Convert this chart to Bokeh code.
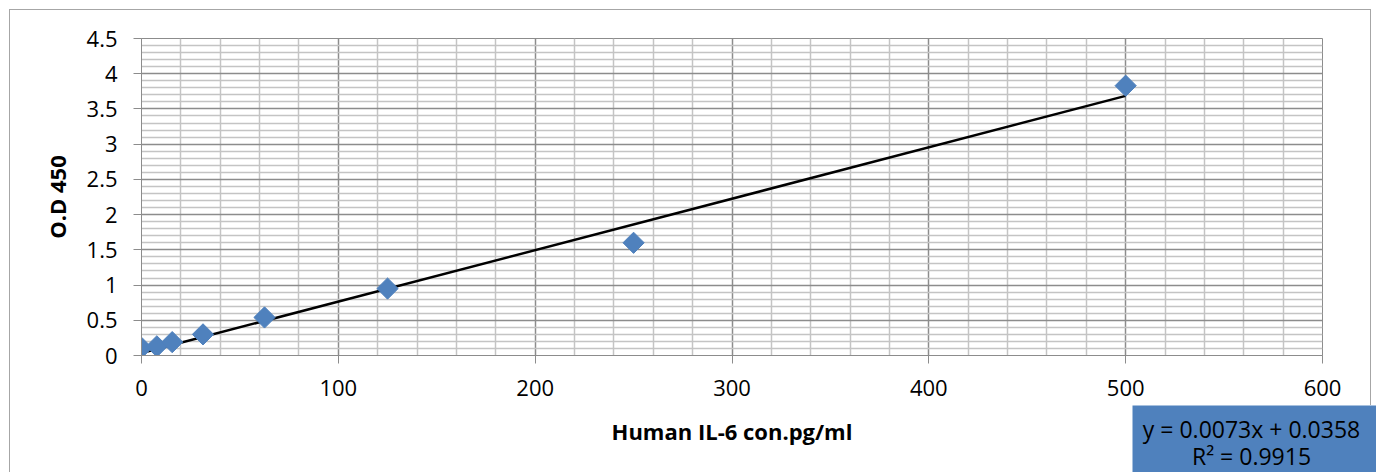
import numpy as np
from bokeh.plotting import figure
from bokeh.layouts import column
from bokeh.models import Range1d, FixedTicker, InlineStyleSheet
from bokeh.core.properties import value
from bokeh.embed import file_html
from bokeh.resources import INLINE

# ---- data ----
conc = [0, 7.8, 15.6, 31.25, 62.5, 125, 250, 500]
od = [0.11, 0.13, 0.19, 0.30, 0.54, 0.95, 1.60, 3.83]
slope = 0.0073
intercept = 0.0358
r2 = 0.9915
x_ticks = [0, 100, 200, 300, 400, 500, 600]
y_ticks = [0, 0.5, 1, 1.5, 2, 2.5, 3, 3.5, 4, 4.5]
x_label = "Human IL-6 con.pg/ml"
y_label = "O.D 450"

FONT = "Open Sans"
W = 1376
FL, FR, FT, FB = 141, 1322, 38, 355      # plot frame edges (px)
H1 = 402
H2 = 472 - H1

p = figure(width=W, height=H1, output_backend="svg", toolbar_location=None,
           x_range=Range1d(x_ticks[0], x_ticks[-1]), y_range=Range1d(y_ticks[0], y_ticks[-1]),
           min_border_left=FL, min_border_right=W - FR, min_border_top=FT,
           min_border_bottom=H1 - FB)
p.frame_align = False
p.background_fill_color = "white"
p.border_fill_color = "white"
p.outline_line_color = "#8c8c8c"
p.outline_line_width = 1

x_minor = [v for v in range(0, 601, 20) if v % 100 != 0]
y_minor = [round(i * 0.1, 1) for i in range(46) if i % 5 != 0]
p.xaxis.ticker = FixedTicker(ticks=x_ticks, minor_ticks=x_minor)
p.yaxis.ticker = FixedTicker(ticks=y_ticks, minor_ticks=y_minor)
p.yaxis.major_label_overrides = {t: f"{t:g}" for t in y_ticks}

for g in (p.xgrid, p.ygrid):
    g.grid_line_color = "#8c8c8c"
    g.grid_line_width = 1.5
    g.minor_grid_line_color = "#c4c4c4"
    g.minor_grid_line_width = 1.5

for ax in (p.xaxis, p.yaxis):
    ax.axis_line_color = "#8c8c8c"
    ax.major_tick_line_color = "#8c8c8c"
    ax.major_tick_out = 8
    ax.major_tick_in = 0
    ax.minor_tick_out = 0
    ax.minor_tick_in = 0
    ax.major_label_text_font = FONT
    ax.major_label_text_font_size = "22px"
    ax.major_label_text_color = "black"
    ax.axis_label_text_font = FONT
    ax.axis_label_text_font_size = "22px"
    ax.axis_label_text_font_style = "bold"
    ax.axis_label_text_color = "black"

p.yaxis.axis_label = y_label
p.xaxis.major_label_standoff = 16
p.yaxis.major_label_standoff = 16
p.yaxis.axis_label_standoff = 12

# trendline
tx = [min(conc), max(conc)]
ty = [slope * v + intercept for v in tx]
p.line(tx, ty, line_color="black", line_width=2.5)

# points
p.scatter(conc, od, marker="square", angle=np.pi / 4, size=15,
          fill_color="#4f81bd", line_color="#4f81bd")

# ---- bottom strip (pixel layout): x-axis title and regression box ----
q = figure(width=W, height=H2, output_backend="svg", toolbar_location=None,
           x_axis_type=None, y_axis_type=None,
           x_range=Range1d(0, W), y_range=Range1d(472, H1),
           min_border=0, min_border_left=0, min_border_right=0,
           min_border_top=0, min_border_bottom=0)
q.frame_align = False
q.grid.visible = False
q.outline_line_color = None
q.background_fill_color = "white"
q.border_fill_color = "white"

q.text(x=[(FL + FR) / 2], y=[430], text=[x_label], text_align="center", text_baseline="middle",
       text_font=value(FONT), text_font_size="22px", text_font_style="bold",
       text_color="black")

q.quad(left=[1132], right=[W], top=[405], bottom=[472],
       fill_color="#4f81bd", line_color=None)
q.text(x=[1251, 1251], y=[428, 455],
       text=[f"y = {slope}x + {intercept}", f"R² = {r2}"],
       text_align="center", text_baseline="middle",
       text_font=value(FONT), text_font_size="23px", text_color="black")

frame_css = InlineStyleSheet(css="""
:host { position: relative; }
:host::before {
  content: ''; position: absolute; left: 9px; top: 9px; right: 5px; bottom: -20px;
  border-left: 1.5px solid #a6a6a6; border-top: 1.5px solid #a6a6a6;
  pointer-events: none; z-index: 5;
}
:host::after {
  content: ''; position: absolute; top: 9px; right: 5px; width: 0; height: 396px;
  border-right: 1.5px solid #a6a6a6; pointer-events: none; z-index: 5;
}
""")
layout = column(p, q, spacing=0, stylesheets=[frame_css])
open("out.html", "w").write(file_html(layout, INLINE))
